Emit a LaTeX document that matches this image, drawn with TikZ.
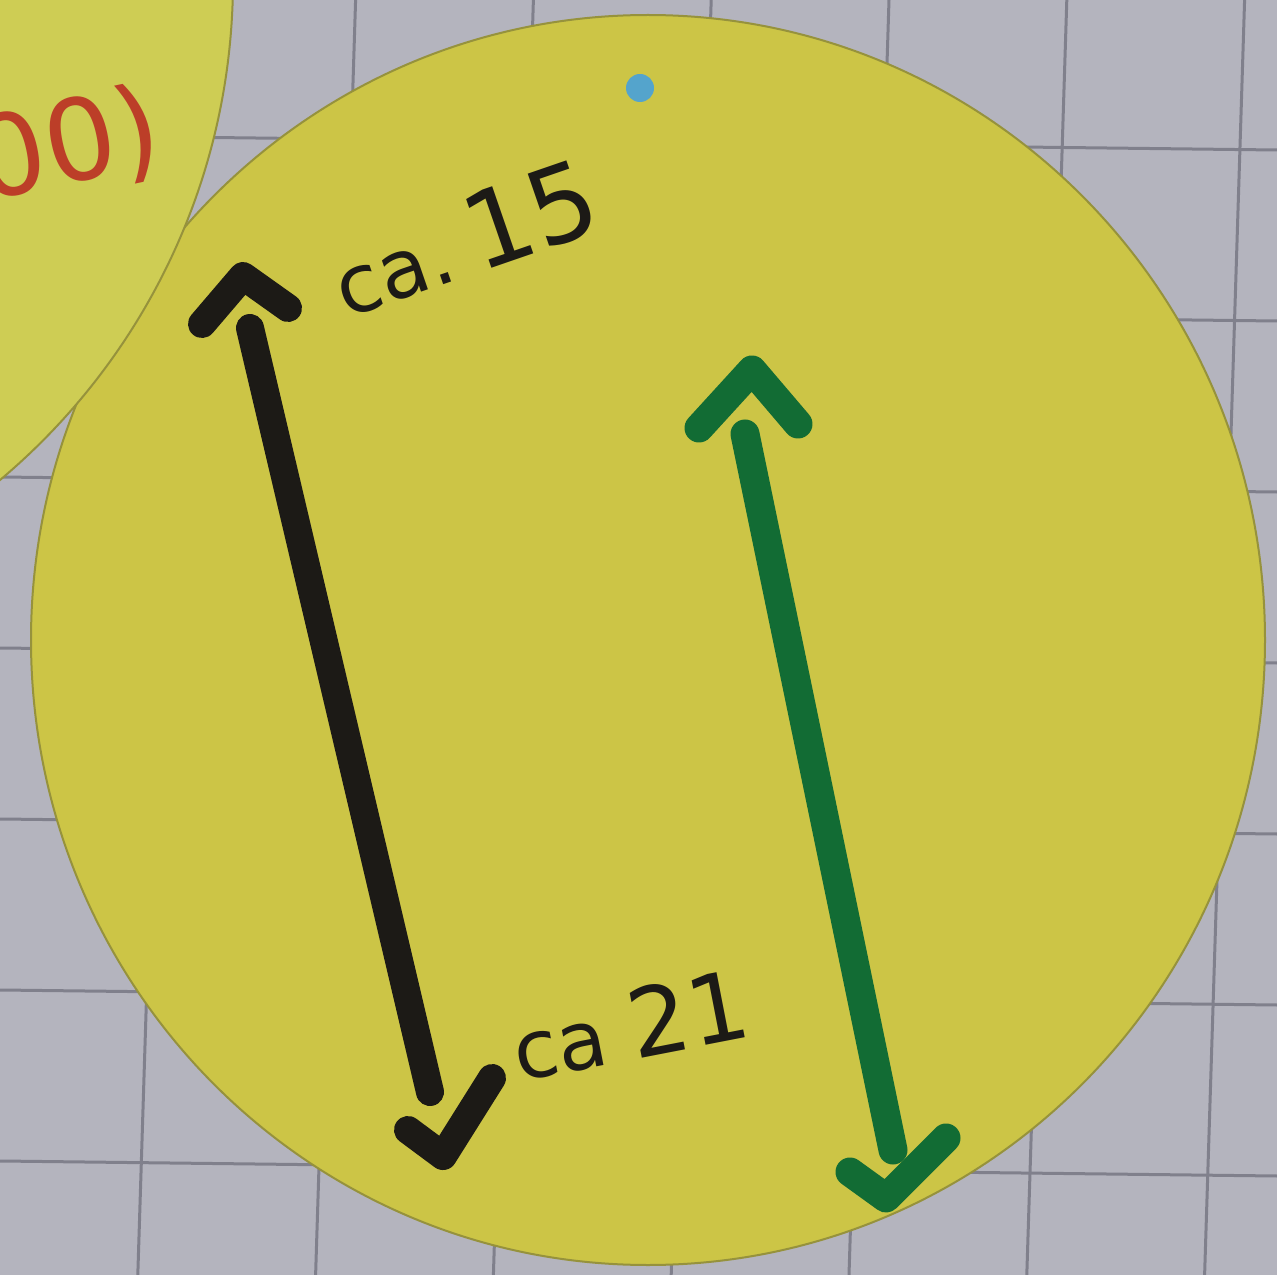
\documentclass[tikz,border=0pt]{standalone}
\usepackage{fontspec}
\setmainfont{DejaVu Sans}
\definecolor{wall}{RGB}{180,180,190}
\definecolor{gridc}{RGB}{128,128,140}
\definecolor{paperA}{RGB}{204,197,70}
\definecolor{paperB}{RGB}{206,205,84}
\definecolor{paperEdge}{RGB}{150,146,60}
\definecolor{inkBlack}{RGB}{28,26,22}
\definecolor{inkGreen}{RGB}{18,108,52}
\definecolor{inkRed}{RGB}{188,62,40}
\definecolor{pinBlue}{RGB}{84,164,204}
\tikzset{
  gridline/.style={draw=gridc, line width=0.3mm},
  blackink/.style={draw=inkBlack, line width=2.8mm, line cap=round, line join=round},
  greenink/.style={draw=inkGreen, line width=2.9mm, line cap=round, line join=round},
  lbl/.style={text=inkBlack, inner sep=0pt},
}
\newcommand{\smallpart}[1]{{\fontsize{23}{26}\selectfont #1}}
\newcommand{\bigpart}[1]{{\fontsize{30}{34}\selectfont #1}}
\begin{document}
\begin{tikzpicture}[x=0.1mm,y=-0.1mm]
\useasboundingbox (0,0) rectangle (1277,1275);
\clip (0,0) rectangle (1277,1275);
% wall with grid
\fill[wall] (0,0) rectangle (1277,1275);
\foreach \k in {-1,...,8}{
  \draw[gridline] ({177.8*\k},0) -- ({177.8*\k-40},1275);
}
\foreach \k in {0,...,6}{
  \draw[gridline] (0,{135+171*\k}) -- (1277,{150+171*\k});
}
% big round paper
\fill[paperA, draw=paperEdge, line width=0.2mm] (648,640) ellipse [x radius=617, y radius=625];
% neighbouring round paper (top left)
\fill[paperB, draw=paperEdge, line width=0.2mm] (-420,-20) circle (653);
\node[text=inkRed, font=\fontsize{32}{34}\selectfont, rotate=12, anchor=east, inner sep=0pt] (red) at (160,128) {00)};
% pin
\fill[pinBlue] (640,88) circle (14);
% black arrow
\coordinate (bTop) at (250,328);
\coordinate (bBot) at (430,1092);
\draw[blackink] (bTop) -- (bBot);
\coordinate (bhl) at (202,324); \coordinate (bha) at (243,276); \coordinate (bhr) at (288,308);
\draw[blackink] (bhl) -- (bha) -- (bhr);
\coordinate (btl) at (408,1130); \coordinate (bta) at (443,1156); \coordinate (btr) at (492,1078);
\draw[blackink] (btl) -- (bta) -- (btr);
% green arrow
\coordinate (gTop) at (745,434);
\coordinate (gBot) at (893,1150);
\draw[greenink] (gTop) -- (gBot);
\coordinate (ghl) at (699,428); \coordinate (gha) at (752,370); \coordinate (ghr) at (798,424);
\draw[greenink] (ghl) -- (gha) -- (ghr);
\coordinate (gtl) at (850,1172); \coordinate (gta) at (886,1198); \coordinate (gtr) at (946,1138);
\draw[greenink] (gtl) -- (gta) -- (gtr);
% labels
\node[lbl, rotate=19] (t15) at (464,238) {\smallpart{ca.}\hspace{6pt}\bigpart{15}};
\node[lbl, rotate=11] (t21) at (630,1025) {\smallpart{ca}\hspace{7pt}{\fontsize{27}{32}\selectfont 21}};
\end{tikzpicture}
\end{document}
